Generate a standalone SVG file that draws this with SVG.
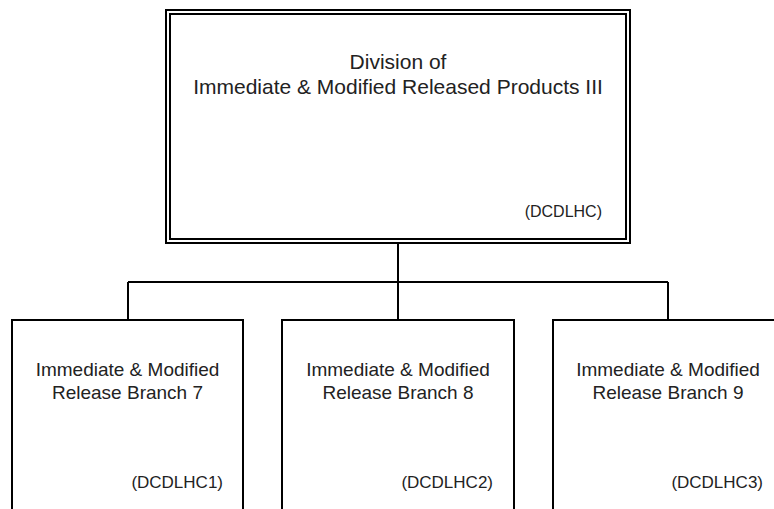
<svg xmlns="http://www.w3.org/2000/svg" width="774" height="509" viewBox="0 0 774 509">
<style>
.box{fill:#fff;stroke:#000;stroke-width:2}
.dbl{fill:none;stroke:#000;stroke-width:2}
.conn{fill:none;stroke:#000;stroke-width:2}
text{font-family:"Liberation Sans",Arial,sans-serif;fill:#222}
.t1{font-size:21px;text-anchor:middle}
.t2{font-size:19px;text-anchor:middle}
.code{font-size:17px;text-anchor:end}
.code0{font-size:16px;text-anchor:end}
</style>
<rect width="774" height="509" fill="#fff"/>
<g id="connectors">
<path class="conn" d="M398,243 V282 M128,282 H668 M128,282 V320 M398,282 V320 M668,282 V320"/>
</g>
<g id="division">
<rect class="box" x="166" y="10" width="464" height="233"/>
<rect class="dbl" x="170" y="14" width="456" height="225"/>
<text class="t1" x="398" y="69">Division of</text>
<text class="t1" x="398" y="94">Immediate &amp; Modified Released Products III</text>
<text class="code0" x="602" y="217">(DCDLHC)</text>
</g>
<g id="branch7">
<rect class="box" x="12" y="320" width="231" height="210"/>
<text class="t2" x="127.5" y="376">Immediate &amp; Modified</text>
<text class="t2" x="127.5" y="399">Release Branch 7</text>
<text class="code" x="223" y="488">(DCDLHC1)</text>
</g>
<g id="branch8">
<rect class="box" x="282" y="320" width="232" height="210"/>
<text class="t2" x="398" y="376">Immediate &amp; Modified</text>
<text class="t2" x="398" y="399">Release Branch 8</text>
<text class="code" x="493" y="488">(DCDLHC2)</text>
</g>
<g id="branch9">
<rect class="box" x="553" y="320" width="231" height="210"/>
<text class="t2" x="668" y="376">Immediate &amp; Modified</text>
<text class="t2" x="668" y="399">Release Branch 9</text>
<text class="code" x="763" y="488">(DCDLHC3)</text>
</g>
</svg>
